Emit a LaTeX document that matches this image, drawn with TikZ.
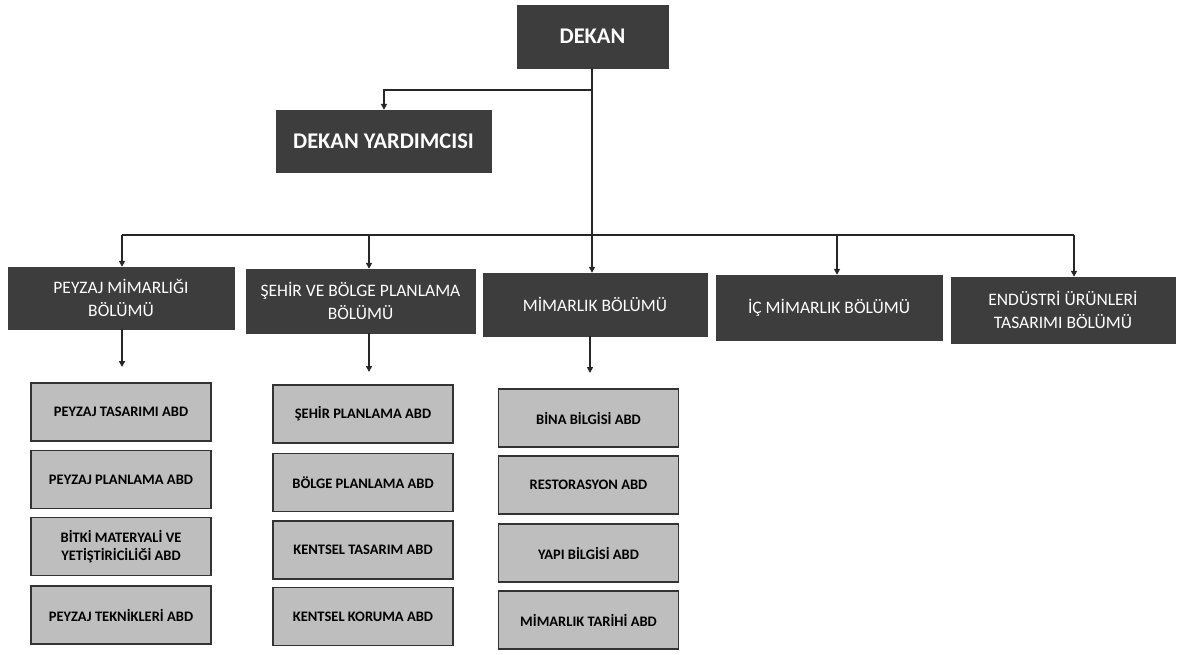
\documentclass[tikz,border=0pt]{standalone}
\usepackage{fontspec}
\setmainfont{Carlito}
\usetikzlibrary{arrows.meta}
\definecolor{darkbox}{HTML}{3D3D3D}
\definecolor{lightbox}{HTML}{BEBEBE}
\tikzset{
  topbox/.style={fill=darkbox, draw=darkbox, text=white, font=\fontsize{22.4}{25}\selectfont\bfseries, inner sep=0pt, align=center},
  deptbox/.style={fill=darkbox, draw=darkbox, text=white, font=\fontsize{17.5}{23}\selectfont, inner sep=0pt, align=center},
  abdbox/.style={fill=lightbox, draw=black!80, line width=1.2pt, text=black, font=\fontsize{14.5}{18}\selectfont\bfseries, minimum width=180pt, minimum height=58pt, inner sep=0pt, align=center},
  conn/.style={draw=black!85, line width=1.5pt},
  arr/.style={conn, -{Triangle[length=6pt,width=6pt]}}
}
\begin{document}
\begin{tikzpicture}[x=1pt,y=1pt]
\useasboundingbox[fill=white] (0,0) rectangle (1177,-655);
% top
\node[topbox, minimum width=151pt, minimum height=63pt] (dekan) at (592.5,-36.5) {DEKAN};
\node[topbox, minimum width=215pt, minimum height=62pt] (dy) at (383.5,-141) {DEKAN YARDIMCISI};
% departments
\node[deptbox, minimum width=226pt, minimum height=62pt] (peyzaj) at (121,-298) {PEYZAJ MİMARLIĞI\\BÖLÜMÜ};
\node[deptbox, minimum width=229pt, minimum height=64pt] (sehir) at (360.5,-301) {ŞEHİR VE BÖLGE PLANLAMA\\BÖLÜMÜ};
\node[deptbox, minimum width=224pt, minimum height=63pt] (mim) at (595,-304.5) {MİMARLIK BÖLÜMÜ};
\node[deptbox, minimum width=226pt, minimum height=65pt] (ic) at (829,-307.5) {İÇ MİMARLIK BÖLÜMÜ};
\node[deptbox, minimum width=224pt, minimum height=66pt] (end) at (1063,-310) {ENDÜSTRİ ÜRÜNLERİ\\TASARIMI BÖLÜMÜ};
% ABD column 1
\node[abdbox] (p1) at (121,-412) {PEYZAJ TASARIMI ABD};
\node[abdbox] (p2) at (121,-479.5) {PEYZAJ PLANLAMA ABD};
\node[abdbox] (p3) at (121,-546.5) {BİTKİ MATERYALİ VE\\YETİŞTİRİCİLİĞİ ABD};
\node[abdbox] (p4) at (121,-615) {PEYZAJ TEKNİKLERİ ABD};
% ABD column 2
\node[abdbox] (s1) at (363,-414) {ŞEHİR PLANLAMA ABD};
\node[abdbox] (s2) at (363,-482.5) {BÖLGE PLANLAMA ABD};
\node[abdbox] (s3) at (363,-550) {KENTSEL TASARIM ABD};
\node[abdbox] (s4) at (363,-616.5) {KENTSEL KORUMA ABD};
% ABD column 3
\node[abdbox] (m1) at (588.5,-418) {BİNA BİLGİSİ ABD};
\node[abdbox] (m2) at (588.5,-485) {RESTORASYON ABD};
\node[abdbox] (m3) at (588.5,-553) {YAPI BİLGİSİ ABD};
\node[abdbox] (m4) at (588.5,-620) {MİMARLIK TARİHİ ABD};
% connectors
\coordinate (dtrunk) at (592,-68);
\coordinate (dyturn) at (592,-90);
\coordinate (dycorner) at (384,-90);
\coordinate (bL) at (122,-235);
\coordinate (bS) at (369,-235);
\coordinate (bM) at (592,-235);
\coordinate (bI) at (837,-235);
\coordinate (bE) at (1074,-235);
\draw[conn] (dtrunk) -- (bM);
\draw[arr] (dyturn) -- (dycorner) -- (dycorner |- dy.north);
\draw[conn] (bL) -- (bE);
\draw[arr] (bL) -- (bL |- peyzaj.north);
\draw[arr] (bS) -- (bS |- sehir.north);
\draw[arr] (bM) -- (bM |- mim.north);
\draw[arr] (bI) -- (bI |- ic.north);
\draw[arr] (bE) -- (bE |- end.north);
% lower arrows
\coordinate (eL) at (122,-367);
\coordinate (eS) at (369,-372);
\coordinate (eM) at (590,-373);
\draw[arr] (eL |- peyzaj.south) -- (eL);
\draw[arr] (eS |- sehir.south) -- (eS);
\draw[arr] (eM |- mim.south) -- (eM);
\end{tikzpicture}
\end{document}
